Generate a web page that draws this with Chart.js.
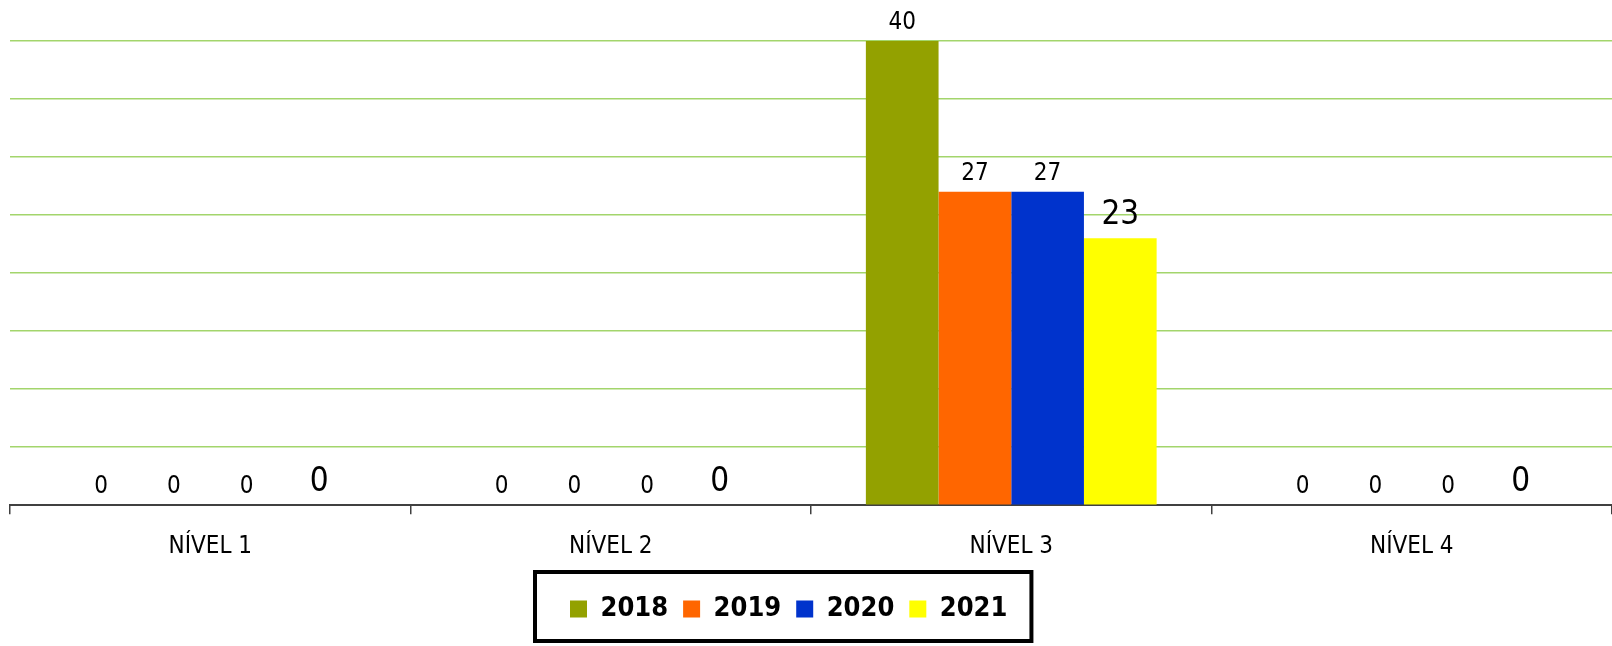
<!DOCTYPE html>
<html>
<head>
<meta charset="utf-8">
<script src="https://cdn.jsdelivr.net/npm/chart.js@4/dist/chart.umd.min.js"></script>
<style>
	body { margin: 0; background: #fff; }
	#wrap { width: 1612px; height: 646px; }
</style>
</head>
<body>
<div id="wrap"><canvas id="myChart"></canvas></div>
<script>
var categories = ['NÍVEL 1', 'NÍVEL 2', 'NÍVEL 3', 'NÍVEL 4'];
var seriesNames = ['2018', '2019', '2020', '2021'];
var values2018 = [0, 0, 40, 0];
var values2019 = [0, 0, 27, 0];
var values2020 = [0, 0, 27, 0];
var values2021 = [0, 0, 23, 0];
var yMax = 40;
var yStep = 5;

var seriesColors = ['#93a100', '#ff6600', '#0033cc', '#ffff00'];
var fontFamily = "'Liberation Sans Narrow', 'DejaVu Sans Condensed', 'Liberation Sans', sans-serif";

Chart.defaults.font.family = fontFamily;
Chart.defaults.color = '#000';

// numbers above the bars (last series drawn bigger)
var valueLabels = {
	id: 'valueLabels',
	afterDatasetsDraw: function(chart) {
		var ctx = chart.ctx;
		ctx.save();
		ctx.fillStyle = '#000';
		ctx.textAlign = 'center';
		ctx.textBaseline = 'alphabetic';
		chart.data.datasets.forEach(function(ds, i) {
			var meta = chart.getDatasetMeta(i);
			ctx.font = (i == 3 ? '33px ' : '24px ') + fontFamily;
			meta.data.forEach(function(bar, j) {
				ctx.fillText(ds.data[j], bar.x, bar.y - (i == 3 ? 14 : 12));
			});
		});
		ctx.restore();
	}
};

// legend sits a bit left of centre, with a black frame round it
var legendFrame = {
	id: 'legendFrame',
	afterLayout: function(chart) {
		var lg = chart.legend;
		var pad = lg.options.labels.padding;
		var fs = lg.options.labels.font.size;
		var start = (lg.left + pad + lg.right - lg.lineWidths[0]) / 2;
		var dx = 570 - start;
		var dy = (609 - pad - fs / 2) - lg.top;
		lg.left += dx; lg.right += dx;
		lg.top += dy; lg.bottom += dy;
	},
	afterDraw: function(chart) {
		var hb = chart.legend.legendHitBoxes;
		if (!hb || !hb.length) return;
		var first = hb[0], last = hb[hb.length - 1];
		var cy = first.top + first.height / 2;
		var x1 = first.left - 35;
		var x2 = last.left + last.width + 24;
		var ctx = chart.ctx;
		ctx.save();
		ctx.strokeStyle = '#000';
		ctx.lineWidth = 4;
		ctx.strokeRect(x1, cy - 37, x2 - x1, 69);
		ctx.restore();
	}
};

var datasets = [values2018, values2019, values2020, values2021].map(function(vals, i) {
	return {
		label: seriesNames[i],
		data: vals,
		backgroundColor: seriesColors[i],
		borderWidth: 0,
		barPercentage: 1,
		categoryPercentage: 0.726
	};
});

var ctx = document.getElementById('myChart');
var myChart = new Chart(ctx, {
	type: 'bar',
	data: { labels: categories, datasets: datasets },
	plugins: [valueLabels, legendFrame],
	options: {
		responsive: true,
		maintainAspectRatio: false,
		animation: false,
		layout: { padding: { left: 10, right: 0, top: 41, bottom: 15 } },
		plugins: {
			legend: {
				position: 'bottom',
				labels: {
					font: { size: 27, weight: 'bold' },
					color: '#000',
					boxWidth: 17,
					boxHeight: 17,
					padding: 15
				}
			},
			tooltip: { enabled: false }
		},
		scales: {
			x: {
				grid: { drawOnChartArea: false, drawTicks: true, tickLength: 9, color: '#404040', lineWidth: 1.5 },
				border: { display: true, color: '#404040', width: 2 },
				ticks: { color: '#000', font: { size: 24 }, padding: 18 }
			},
			y: {
				min: 0,
				max: yMax,
				ticks: { display: false, stepSize: yStep },
				grid: {
					drawTicks: false,
					lineWidth: 1.5,
					color: function(c) { return c.tick && c.tick.value === 0 ? 'rgba(0,0,0,0)' : '#a3d56c'; }
				},
				border: { display: false }
			}
		}
	}
});
</script>
</body>
</html>
